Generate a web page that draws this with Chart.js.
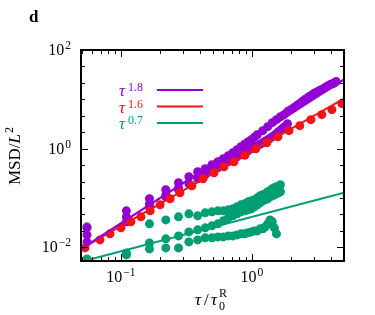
<!DOCTYPE html>
<html>
<head>
<meta charset="utf-8">
<title>MSD</title>
<script src="https://cdn.jsdelivr.net/npm/chart.js@4.4.0/dist/chart.umd.min.js"></script>
<style>
  body { margin: 0; background: #fff; }
</style>
</head>
<body>
<canvas id="myChart" width="375" height="315"></canvas>
<script>
// values: x = tau / tau_0^R, y = MSD / L^2

// purple runs
let tauP1 = [0.055,0.11,0.165,0.22,0.275,0.33,0.385,0.44,0.495,0.55,0.605,0.66,0.715,0.77,0.825,0.88,0.935,0.99,1.045,1.1,
  1.21,1.32,1.43,1.54,1.65,1.76,1.87,1.98,2.09,2.2,2.31,2.42,2.53,2.64,2.75,2.86,2.97,3.08,3.19,3.3,3.41,3.52,3.63,3.74,3.85,3.96,4.07,4.18,4.29,4.4]
let msdP1 = [0.0249,0.0551,0.0966,0.147,0.204,0.270,0.341,0.393,0.473,0.545,0.627,0.721,0.829,0.954,1.10,1.23,1.39,1.52,1.71,1.92,
  2.32,2.80,3.37,3.88,4.46,4.90,5.64,6.19,6.80,7.47,8.20,9.00,9.89,10.6,11.4,12.2,13.1,13.7,14.4,15.1,15.8,16.5,17.3,18.2,19.0,19.9,20.4,20.9,21.9,22.9]

let tauP2 = [0.055,0.11,0.165,0.22,0.275,0.33,0.385,0.44,0.495,0.55,0.605,0.66,0.715,0.77,0.825,0.88,0.935,0.99,1.045,1.1,
  1.155,1.21,1.265,1.32,1.375,1.43,1.485,1.54,1.595,1.65,1.705,1.76,1.815,1.87]
let msdP2 = [0.0129,0.0330,0.0664,0.106,0.147,0.195,0.246,0.297,0.357,0.411,0.473,0.545,0.612,0.688,0.755,0.829,0.911,1.0,1.07,1.15,
  1.23,1.32,1.42,1.52,1.63,1.75,1.88,2.02,2.21,2.37,2.55,2.73,2.93,3.22]

let tauP3 = [0.055,0.11,0.165,0.22,0.275]
let msdP3 = [0.0179,0.0416,0.0764,0.116,0.161]

// red run
let tauR = [0.0531,0.0691,0.0824,0.100,0.119,0.142,0.167,0.199,0.237,0.282,0.348,0.423,0.513,0.611,0.729,0.884,1.07,1.30,1.58,1.92,2.32,2.82,3.42,4.08,4.86]
let msdR = [0.00977,0.0142,0.0188,0.0249,0.0330,0.0416,0.0551,0.0729,0.0966,0.128,0.177,0.246,0.326,0.431,0.545,0.738,1.0,1.32,1.75,2.32,2.93,3.88,4.90,6.19,8.20]

// green runs
let tauG1 = [0.055,0.165,0.22,0.275,0.33,0.385,0.44,0.495,0.55,0.605,0.66,0.715,0.77,0.825,0.88,0.935,0.99,1.045,1.1,
  1.155,1.21,1.265,1.32,1.375,1.43,1.485,1.54,1.595,1.65]
let msdG1 = [0.0261,0.0300,0.0361,0.0416,0.0479,0.0436,0.0502,0.0526,0.0551,0.0551,0.0577,0.0605,0.0664,0.0729,0.0764,0.0839,0.0879,0.0921,0.101,
  0.111,0.116,0.122,0.134,0.140,0.154,0.161,0.169,0.169,0.186]

let tauG2 = [0.11,0.165,0.22,0.275,0.33,0.385,0.44,0.495,0.55,0.605,0.66,0.715,0.77,0.825,0.88,0.935,0.99,1.045,1.1,
  1.155,1.21,1.265,1.32,1.375,1.43,1.485,1.54,1.595,1.65]
let msdG2 = [0.00773,0.0123,0.0149,0.0171,0.0206,0.0227,0.0249,0.0273,0.0300,0.0345,0.0397,0.0436,0.0479,0.0526,0.0551,0.0577,0.0605,0.0664,0.0729,
  0.0801,0.0879,0.0921,0.0966,0.106,0.111,0.116,0.122,0.128,0.134]

let tauG3 = [0.055,0.11,0.165,0.22,0.275,0.33,0.385,0.44,0.495,0.55,0.605,0.66,0.715,0.77,0.825,0.88,0.935,0.99,1.045,1.1,
  1.155,1.21,1.265,1.32,1.375,1.43,1.485,1.54]
let msdG3 = [0.00584,0.00704,0.00933,0.00977,0.00977,0.0129,0.0142,0.0156,0.0156,0.0163,0.0163,0.0171,0.0171,0.0179,0.0188,0.0188,0.0197,0.0206,0.0216,0.0216,
  0.0238,0.0238,0.0261,0.0300,0.0361,0.0330,0.0249,0.0188]

// power-law guides (end points at the frame edges)
let fitTau = [0.0495, 5.05]
let fit18 = [0.00925, 25.3]
let fit16 = [0.0093, 10.4]
let fit07 = [0.0051, 0.128]

// axis tick labels: 10^exp
let xTickVals = [0.1, 1]
let xTickExp = ['\u22121', '0']
let yTickVals = [0.01, 1, 100]
let yTickExp = ['\u22122', '0', '2']

let legendRows = [
  { exp: '1.8', color: '#9400d3' },
  { exp: '1.6', color: '#f41414' },
  { exp: '0.7', color: '#009e73' }
]

const PURPLE = '#9400d3', RED = '#f41414', GREEN = '#009e73'
const SERIF = '"Liberation Serif", "DejaVu Serif", serif'

function pts(xs, ys) {
  return xs.map((x, i) => ({ x: x, y: ys[i] }))
}

function dots(data, color, order) {
  return { data: data, backgroundColor: color, borderColor: color, borderWidth: 0,
    pointRadius: 4.5, pointHoverRadius: 4.5, showLine: false, order: order }
}

function guide(ys, color) {
  return { data: pts(fitTau, ys), borderColor: color, borderWidth: 2, pointRadius: 0,
    showLine: true, fill: false, order: 0 }
}

// "10" with a raised exponent; (x, y) = right or centre anchor, y = baseline
function powLabel(ctx, exp, x, y, align) {
  ctx.font = '16px ' + SERIF
  let wb = ctx.measureText('10').width
  ctx.font = '11.5px ' + SERIF
  let we = ctx.measureText(exp).width
  let w = wb + we + 1
  let x0 = align === 'right' ? x - w : x - w / 2
  ctx.textAlign = 'left'
  ctx.font = '16px ' + SERIF
  ctx.fillText('10', x0, y)
  ctx.font = '11.5px ' + SERIF
  ctx.fillText(exp, x0 + wb + 1, y - 6)
}

// frame, inward ticks, tick labels, legend, axis titles, panel letter
const decor = {
  id: 'decor',
  afterDraw(chart) {
    const ctx = chart.ctx
    const a = chart.chartArea
    const xs = chart.scales.x, ys = chart.scales.y
    ctx.save()
    ctx.strokeStyle = '#000'

    // x ticks (bottom and top)
    ctx.lineWidth = 1
    for (let d = -2; d <= 0; d++) {
      for (let m = 1; m <= 9; m++) {
        let v = m * Math.pow(10, d)
        if (v < xs.min || v > xs.max) continue
        let p = Math.round(xs.getPixelForValue(v)) + 0.5
        let len = m === 1 ? 7 : 4
        ctx.beginPath()
        ctx.moveTo(p, a.bottom); ctx.lineTo(p, a.bottom - len)
        ctx.moveTo(p, a.top); ctx.lineTo(p, a.top + len)
        ctx.stroke()
      }
    }
    // y ticks every third of a decade (left and right)
    for (let k = -7; k <= 6; k++) {
      let v = Math.pow(10, k / 3)
      if (v < ys.min || v > ys.max * 1.001) continue
      let p = Math.round(ys.getPixelForValue(v)) + 0.5
      let len = k % 6 === 0 ? 7 : 4
      ctx.beginPath()
      ctx.moveTo(a.left, p); ctx.lineTo(a.left + len, p)
      ctx.moveTo(a.right, p); ctx.lineTo(a.right - len, p)
      ctx.stroke()
    }
    // frame
    ctx.lineWidth = 2
    ctx.strokeRect(a.left, a.top, a.right - a.left, a.bottom - a.top)

    // tick labels
    ctx.fillStyle = '#000'
    ctx.textBaseline = 'alphabetic'
    xTickVals.forEach((v, i) => {
      powLabel(ctx, xTickExp[i], xs.getPixelForValue(v), a.bottom + 21, 'center')
    })
    yTickVals.forEach((v, i) => {
      powLabel(ctx, yTickExp[i], a.left - 10, ys.getPixelForValue(v) + 5, 'right')
    })

    // legend
    legendRows.forEach((r, i) => {
      let ly = 90 + i * 16.5
      ctx.fillStyle = r.color
      ctx.textAlign = 'left'
      ctx.font = 'italic 17px ' + SERIF
      ctx.fillText('\u03C4', 119, ly + 6)
      ctx.font = '12px ' + SERIF
      ctx.fillText(r.exp, 128, ly + 1)
      ctx.strokeStyle = r.color
      ctx.lineWidth = 2
      ctx.beginPath()
      ctx.moveTo(157, ly); ctx.lineTo(203, ly)
      ctx.stroke()
    })

    // panel letter
    ctx.fillStyle = '#000'
    ctx.font = 'bold 17px ' + SERIF
    ctx.fillText('d', 29, 22)

    // x title: tau / tau_0^R
    ctx.font = 'italic 17px ' + SERIF
    let bx = 195, by = 305
    ctx.fillText('\u03C4', bx, by)
    ctx.font = '17px ' + SERIF
    ctx.fillText('/', bx + 9, by)
    ctx.font = 'italic 17px ' + SERIF
    ctx.fillText('\u03C4', bx + 16, by)
    ctx.font = '12px ' + SERIF
    ctx.fillText('0', bx + 24, by + 5)
    ctx.fillText('R', bx + 24, by - 8)

    // y title: MSD / L^2 (rotated)
    ctx.translate(20, 156)
    ctx.rotate(-Math.PI / 2)
    ctx.textAlign = 'left'
    ctx.font = '17px ' + SERIF
    let w1 = ctx.measureText('MSD/').width
    ctx.font = 'italic 17px ' + SERIF
    let w2 = ctx.measureText('L').width
    let x0 = -(w1 + w2 + 7) / 2
    ctx.font = '17px ' + SERIF
    ctx.fillText('MSD/', x0, 0)
    ctx.font = 'italic 17px ' + SERIF
    ctx.fillText('L', x0 + w1, 0)
    ctx.font = '12px ' + SERIF
    ctx.fillText('2', x0 + w1 + w2 + 1, -7)
    ctx.restore()
  }
}

let ctx = document.getElementById('myChart')

let myChart = new Chart(ctx, {
  type: 'scatter',
  data: {
    datasets: [
      guide(fit18, PURPLE),
      guide(fit16, RED),
      guide(fit07, GREEN),
      dots(pts(tauR, msdR), RED, 1),
      dots(pts(tauP3, msdP3), PURPLE, 2),
      dots(pts(tauP2, msdP2), PURPLE, 2),
      dots(pts(tauP1, msdP1), PURPLE, 2),
      dots(pts(tauG3, msdG3), GREEN, 3),
      dots(pts(tauG2, msdG2), GREEN, 3),
      dots(pts(tauG1, msdG1), GREEN, 3)
    ]
  },
  options: {
    responsive: false,
    animation: false,
    devicePixelRatio: 1,
    layout: { padding: { left: 0, top: 50, right: 31, bottom: 0 } },
    plugins: { legend: { display: false }, tooltip: { enabled: false } },
    scales: {
      x: {
        type: 'logarithmic', min: 0.0495, max: 5.05,
        grid: { display: false }, border: { display: false },
        afterBuildTicks: s => { s.ticks = xTickVals.map(v => ({ value: v })) },
        afterFit: s => { s.height = 54 },
        ticks: { display: false }
      },
      y: {
        type: 'logarithmic', min: 0.0053, max: 100,
        grid: { display: false }, border: { display: false },
        afterBuildTicks: s => { s.ticks = yTickVals.map(v => ({ value: v })) },
        afterFit: s => { s.width = 81 },
        ticks: { display: false }
      }
    }
  },
  plugins: [decor]
})
</script>
</body>
</html>
